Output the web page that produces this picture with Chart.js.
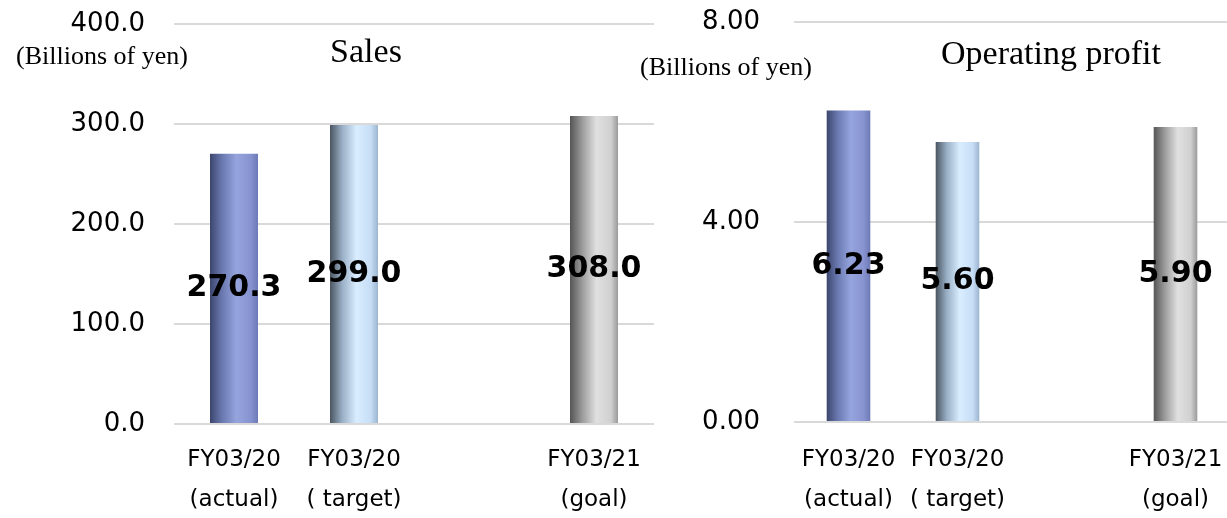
<!DOCTYPE html>
<html>
<head>
<meta charset="utf-8">
<script src="https://cdn.jsdelivr.net/npm/chart.js@4"></script>
<style>
  html, body { margin: 0; padding: 0; background: #fff; overflow: hidden; }
  body { width: 1227px; height: 518px; position: relative; }
  canvas { position: absolute; top: 0; }
  #salesChart { left: 0; }
  #profitChart { left: 620px; }
</style>
</head>
<body>
<canvas id="salesChart" width="660" height="518"></canvas>
<canvas id="profitChart" width="660" height="518"></canvas>
<script>
// third slot is left empty in the original layout
const categories = [['FY03/20', '(actual)'], ['FY03/20', '( target)'], '', ['FY03/21', '(goal)']];
const salesValues = [270.3, 299.0, null, 308.0];
const profitValues = [6.23, 5.60, null, 5.90];
const salesTicks = [0, 100, 200, 300, 400];
const profitTicks = [0, 4, 8];

// left-to-right shading of each "cylinder" bar
const barShades = [
  ['#3b466e', '#6a78b0', '#96a4de', '#8793d0', '#6e7ab6'],
  ['#4a5561', '#98aec4', '#d9edff', '#c6ddf5', '#9db4d0'],
  null,
  ['#555555', '#9a9a9a', '#e0e0e0', '#d0d0d0', '#9a9a9a'],
];
const shadeStops = [0, 0.25, 0.55, 0.85, 1];

function barFill(ctx) {
  const shades = barShades[ctx.dataIndex];
  if (!shades) return 'rgba(0,0,0,0)';
  const chart = ctx.chart;
  const xs = chart.scales.x;
  if (!xs || !xs.width) return shades[2];
  const cx = xs.getPixelForValue(ctx.dataIndex);
  const half = xs.width / categories.length * ctx.dataset.barPercentage / 2;
  const g = chart.ctx.createLinearGradient(cx - half, 0, cx + half, 0);
  shades.forEach((c, i) => g.addColorStop(shadeStops[i], c));
  return g;
}

const valueLabels = {
  id: 'valueLabels',
  afterDatasetsDraw(chart, args, opts) {
    const { ctx } = chart;
    const meta = chart.getDatasetMeta(0);
    const data = chart.data.datasets[0].data;
    ctx.save();
    ctx.font = 'bold 30px "DejaVu Sans"';
    ctx.fillStyle = '#000';
    ctx.textAlign = 'center';
    ctx.textBaseline = 'middle';
    meta.data.forEach((bar, i) => {
      if (data[i] == null) return;
      ctx.fillText(data[i].toFixed(opts.digits), bar.x, (bar.y + bar.base) / 2);
    });
    ctx.restore();
  }
};

const captions = {
  id: 'captions',
  afterDraw(chart, args, opts) {
    const { ctx } = chart;
    ctx.save();
    ctx.fillStyle = '#000';
    ctx.textAlign = 'center';
    ctx.textBaseline = 'middle';
    ctx.font = '34px "Liberation Serif"';
    ctx.fillText(opts.title, opts.titleX, opts.titleY);
    ctx.font = '26px "Liberation Serif"';
    ctx.fillText('(Billions of yen)', opts.unitX, opts.unitY);
    ctx.restore();
  }
};

function makeChart(id, values, ticks, digits, box, caption) {
  return new Chart(document.getElementById(id), {
    type: 'bar',
    data: {
      labels: categories,
      datasets: [{
        data: values,
        backgroundColor: barFill,
        barPercentage: 0.4,
        categoryPercentage: 1,
      }],
    },
    options: {
      responsive: false,
      animation: false,
      layout: { padding: { top: box.top, right: box.right, left: 0, bottom: 0 } },
      plugins: {
        legend: { display: false },
        tooltip: { enabled: false },
        valueLabels: { digits },
        captions: caption,
      },
      scales: {
        x: {
          grid: { display: false, drawTicks: false },
          border: { display: false },
          afterFit: (s) => { s.height = box.xHeight; },
          ticks: {
            autoSkip: false,
            maxRotation: 0,
            padding: box.xPad,
            color: '#000',
            font: { family: 'DejaVu Sans', size: 23, lineHeight: '40px' },
          },
        },
        y: {
          min: ticks[0],
          max: ticks[ticks.length - 1],
          afterBuildTicks: (s) => { s.ticks = ticks.map((v) => ({ value: v })); },
          afterFit: (s) => {
            s.width = box.yWidth;
            s.paddingTop = 0;
            s.paddingBottom = 0;
          },
          grid: { color: '#d9d9d9', lineWidth: 2, drawTicks: false },
          border: { display: false },
          ticks: {
            padding: box.tickPad,
            color: '#000',
            font: { family: 'DejaVu Sans', size: 26 },
            callback: (v) => Number(v).toFixed(digits),
          },
        },
      },
    },
    plugins: [valueLabels, captions],
  });
}

makeChart('salesChart', salesValues, salesTicks, 1,
  { top: 24, right: 6, xHeight: 94, yWidth: 174, tickPad: 29, xPad: 16 },
  { title: 'Sales', titleX: 366, titleY: 53, unitX: 102, unitY: 57 });

makeChart('profitChart', profitValues, profitTicks, 2,
  { top: 22, right: 50, xHeight: 96, yWidth: 174, tickPad: 34, xPad: 18 },
  { title: 'Operating profit', titleX: 431, titleY: 55, unitX: 106, unitY: 68 });
</script>
</body>
</html>
